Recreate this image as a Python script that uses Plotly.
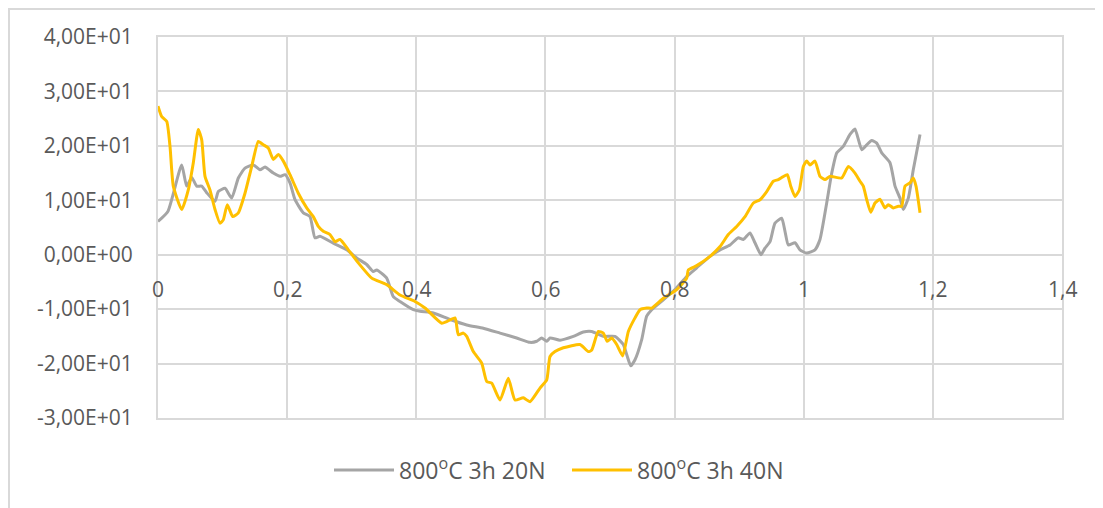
import plotly.graph_objects as go

x_gray = [0.000, 0.0155, 0.0367, 0.0444, 0.0522, 0.0599, 0.0677, 0.0754, 0.0883, 0.0934,
          0.1038, 0.1141, 0.1244, 0.1347, 0.1476, 0.1580, 0.1657, 0.1786, 0.1890, 0.1967,
          0.2044, 0.2122, 0.2250, 0.2354, 0.2431, 0.2509, 0.2715, 0.2922, 0.3077, 0.3232,
          0.3334, 0.3387, 0.3542, 0.3644, 0.3748, 0.3954, 0.4058, 0.4264, 0.4522, 0.4781,
          0.5038, 0.5297, 0.5555, 0.5761, 0.5865, 0.5942, 0.6020, 0.6071, 0.6226, 0.6432,
          0.6587, 0.6717, 0.6896, 0.7077, 0.7206, 0.7268, 0.7321, 0.7387, 0.7491, 0.7568,
          0.7646, 0.7826, 0.8007, 0.8188, 0.8343, 0.8549, 0.8704, 0.8859, 0.8987, 0.9065,
          0.9168, 0.9245, 0.9338, 0.9400, 0.9478, 0.9555, 0.9659, 0.9710, 0.9761, 0.9865,
          0.9942, 1.0046, 1.0175, 1.0252, 1.0356, 1.0434, 1.0511, 1.0613, 1.0717, 1.0794,
          1.0898, 1.0976, 1.1053, 1.1131, 1.1208, 1.1336, 1.1414, 1.1491, 1.1542, 1.1620,
          1.1697, 1.1801]
y_gray = [6.1, 8.0, 16.5, 12.6, 14.2, 12.6, 12.6, 11.4, 9.8, 11.6,
          12.2, 10.4, 14.1, 15.9, 16.5, 15.6, 16.1, 15.0, 14.4, 14.7,
          13.2, 10.1, 7.7, 7.0, 3.1, 3.4, 2.1, 0.9, -0.6, -1.8,
          -3.1, -2.8, -4.3, -7.7, -8.6, -10.1, -10.4, -10.7, -11.9, -12.9,
          -13.5, -14.4, -15.3, -16.1, -15.9, -15.3, -15.9, -15.3, -15.7, -15.0,
          -14.2, -14.1, -15.0, -15.0, -16.5, -18.7, -20.4, -19.3, -15.6, -11.3,
          -10.1, -8.3, -6.4, -4.0, -2.4, -0.3, 0.9, 1.8, 3.1, 2.8,
          4.0, 2.2, 0.0, 1.2, 2.4, 5.8, 6.7, 4.3, 1.8, 2.2,
          0.9, 0.3, 0.9, 2.8, 9.5, 15.0, 18.7, 19.9, 22.1, 23.1,
          19.3, 20.2, 21.0, 20.5, 18.7, 16.9, 12.6, 10.4, 8.3, 10.4,
          15.6, 22.1]

x_yellow = [0.000, 0.0057, 0.0135, 0.0186, 0.0237, 0.0367, 0.0469, 0.0547, 0.0624, 0.0677,
            0.0728, 0.0805, 0.0883, 0.0960, 0.1011, 0.1073, 0.1157, 0.1244, 0.1347, 0.1451,
            0.1553, 0.1631, 0.1708, 0.1786, 0.1863, 0.1941, 0.2044, 0.2173, 0.2303, 0.2405,
            0.2483, 0.2560, 0.2664, 0.2741, 0.2819, 0.2947, 0.3102, 0.3310, 0.3542, 0.3748,
            0.3980, 0.4135, 0.4394, 0.4471, 0.4600, 0.4651, 0.4728, 0.4781, 0.4883, 0.5013,
            0.5091, 0.5168, 0.5297, 0.5425, 0.5529, 0.5657, 0.5761, 0.5916, 0.6020, 0.6071,
            0.6148, 0.6277, 0.6535, 0.6664, 0.6717, 0.6819, 0.6896, 0.6958, 0.7026, 0.7104,
            0.7197, 0.7284, 0.7387, 0.7465, 0.7568, 0.7646, 0.7826, 0.8033, 0.8188, 0.8213,
            0.8343, 0.8549, 0.8704, 0.8832, 0.8962, 0.9091, 0.9220, 0.9323, 0.9427, 0.9529,
            0.9606, 0.9675, 0.9746, 0.9799, 0.9865, 0.9932, 0.9994, 1.0046, 1.0097, 1.0175,
            1.0252, 1.0330, 1.0407, 1.0588, 1.0691, 1.0794, 1.0872, 1.0923, 1.0976, 1.1038,
            1.1104, 1.1181, 1.1259, 1.1310, 1.1388, 1.1465, 1.1518, 1.1569, 1.1646, 1.1697,
            1.1739, 1.1801]
y_yellow = [27.3, 25.4, 24.5, 19.9, 12.6, 8.3, 11.9, 16.9, 23.0, 21.1,
            14.4, 11.9, 8.3, 5.8, 6.4, 9.2, 7.0, 7.7, 11.3, 16.2,
            20.8, 20.2, 19.6, 17.5, 18.4, 17.2, 14.7, 11.3, 8.6, 7.0,
            5.2, 4.3, 3.7, 2.4, 2.8, 0.9, -1.5, -4.3, -5.5, -7.4,
            -8.6, -9.8, -12.6, -12.3, -11.6, -14.7, -14.4, -15.0, -17.8, -19.9,
            -23.3, -23.6, -26.7, -22.7, -26.7, -26.3, -27.0, -24.5, -23.0, -18.7,
            -17.8, -17.1, -16.5, -17.8, -17.5, -14.1, -14.4, -15.9, -15.3, -16.5,
            -18.6, -14.1, -11.6, -10.1, -9.8, -9.8, -8.0, -6.4, -4.3, -2.8,
            -2.0, -0.3, 1.5, 3.7, 5.2, 7.0, 9.5, 10.1, 11.6, 13.5,
            13.8, 14.3, 14.7, 12.6, 10.7, 11.9, 16.2, 17.2, 16.5, 17.2,
            14.4, 13.8, 14.4, 14.1, 16.2, 15.0, 13.5, 12.6, 10.1, 7.8,
            9.5, 10.2, 8.6, 9.2, 8.6, 8.9, 8.9, 12.6, 13.2, 14.1,
            12.6, 7.7]

series_names = ["800<sup>o</sup>C 3h 20N", "800<sup>o</sup>C 3h 40N"]

x_tickvals = [0, 0.2, 0.4, 0.6, 0.8, 1.0, 1.2, 1.4]
x_ticktext = ["0", "0,2", "0,4", "0,6", "0,8", "1", "1,2", "1,4"]
y_tickvals = [-30, -20, -10, 0, 10, 20, 30, 40]
y_ticktext = ["-3,00E+01", "-2,00E+01", "-1,00E+01", "0,00E+00",
              "1,00E+01", "2,00E+01", "3,00E+01", "4,00E+01"]

FONT = "Open Sans"
TXT = "#595959"
GRID = "#d9d9d9"
FS = 21

fig = go.Figure()
fig.add_trace(go.Scatter(x=x_gray, y=y_gray, mode="lines", name=series_names[0],
                         line=dict(color="#a5a5a5", width=3, shape="spline", smoothing=0.5)))
fig.add_trace(go.Scatter(x=x_yellow, y=y_yellow, mode="lines", name=series_names[1],
                         line=dict(color="#ffc000", width=3, shape="spline", smoothing=0.5)))

for v, t in zip(x_tickvals, x_ticktext):
    fig.add_annotation(x=v, y=0, xref="x", yref="y", text=t, showarrow=False,
                       yanchor="middle", xanchor="center", yshift=-34,
                       font=dict(family=FONT, size=FS, color=TXT))

# chart-area border
fig.add_shape(type="rect", xref="paper", yref="paper",
              x0=(9 - 158) / 904, x1=(1130 - 158) / 904,
              y0=(418 - 540) / 381, y1=(418 - 9) / 381,
              line=dict(color=GRID, width=2), fillcolor="rgba(0,0,0,0)", layer="below")

fig.update_layout(
    width=1103, height=508,
    margin=dict(l=150, r=49, t=29, b=98, autoexpand=False),
    paper_bgcolor="white", plot_bgcolor="white",
    font=dict(family=FONT, size=FS, color=TXT),
    showlegend=True,
    legend=dict(orientation="h", x=(329 - 158) / 904, xanchor="left",
                y=(418 - 470) / 381, yanchor="middle",
                font=dict(family=FONT, size=23, color=TXT),
                itemwidth=60, entrywidth=163, entrywidthmode="pixels",
                tracegroupgap=0),
    xaxis=dict(range=[0, 1.4], tickvals=x_tickvals, showticklabels=False,
               showgrid=True, gridcolor=GRID, gridwidth=2, automargin=False,
               showline=True, mirror=True, linecolor=GRID, linewidth=2,
               zeroline=False, fixedrange=True),
    yaxis=dict(range=[-30, 40], tickvals=y_tickvals, ticktext=y_ticktext,
               showgrid=True, gridcolor=GRID, gridwidth=2, automargin=False,
               showline=True, mirror=True, linecolor=GRID, linewidth=2,
               zeroline=False, ticks="outside", ticklen=19,
               tickcolor="rgba(0,0,0,0)",
               tickfont=dict(family=FONT, size=FS, color=TXT), fixedrange=True),
)

fig.write_html("out.html")
